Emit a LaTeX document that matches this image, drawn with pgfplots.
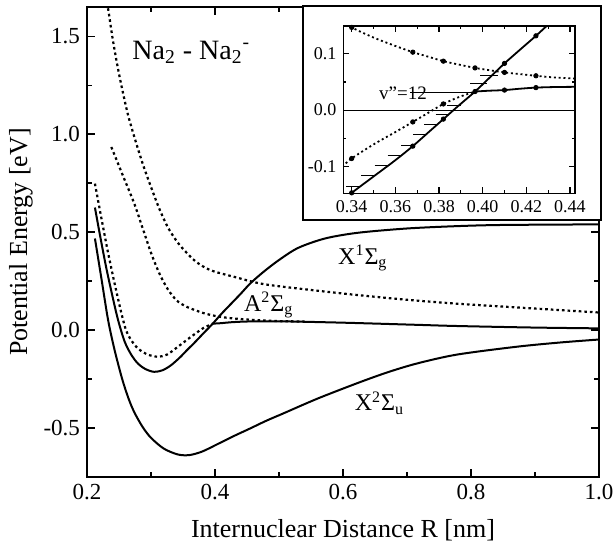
\documentclass[border=0pt]{standalone}
\usepackage{pgfplots}
\pgfplotsset{compat=1.18}
\usepackage{fontspec}
\setmainfont{Liberation Serif}

\begin{document}
\begin{tikzpicture}
\useasboundingbox (-43.5pt,-37pt) rectangle (264.5pt,238.5pt);
\begin{axis}[
  at={(0pt,0pt)}, anchor=south west,
  scale only axis, width=256pt, height=235pt,
  xmin=0.2, xmax=1.0, ymin=-0.75, ymax=1.65,
  xtick={0.2,0.4,0.6,0.8,1.0}, minor xtick={0.3,0.5,0.7,0.9},
  ytick={-0.5,0,0.5,1,1.5}, minor ytick={-0.25,0.25,0.75,1.25},
  tick align=inside, major tick length=4pt, minor tick length=2.5pt,
  axis line style={line width=1pt}, every tick/.style={line width=0.8pt, black},
  /pgf/number format/assume math mode=true,
  xticklabel style={/pgf/number format/.cd, fixed, fixed zerofill, precision=1},
  yticklabel style={/pgf/number format/.cd, fixed, fixed zerofill, precision=1},
  tick label style={font=\fontsize{11.5}{13}\selectfont},
  label style={font=\fontsize{13}{15}\selectfont},
  xlabel={Internuclear Distance R [nm]},
  ylabel={Potential Energy [eV]},
  xlabel style={at={(axis description cs:0.5,0)}, anchor=center, yshift=-26.5pt},
  ylabel style={at={(axis description cs:0,0.5)}, anchor=center, rotate=0, yshift=33pt},
  clip=true,
]
% X2Sigma_u
\addplot[black, line width=1pt, smooth] coordinates {
(0.2124,0.468) (0.2227,0.26) (0.233,0.051) (0.243,-0.10) (0.255,-0.25) (0.265,-0.35) (0.274,-0.42) (0.287,-0.495) (0.300,-0.55) (0.320,-0.605) (0.342,-0.635) (0.360,-0.638) (0.380,-0.620) (0.404,-0.582) (0.430,-0.54) (0.455,-0.502) (0.480,-0.463) (0.507,-0.425) (0.560,-0.35) (0.623,-0.27) (0.670,-0.215) (0.716,-0.170) (0.778,-0.125) (0.871,-0.085) (0.94,-0.063) (1.0,-0.048)
};
% X1Sigma_g
\addplot[black, line width=1pt, smooth] coordinates {
(0.2124,0.626) (0.220,0.49) (0.230,0.32) (0.240,0.17) (0.2486,0.051) (0.259,-0.06) (0.270,-0.13) (0.280,-0.172) (0.292,-0.200) (0.305,-0.213) (0.318,-0.205) (0.331,-0.180) (0.345,-0.140) (0.356,-0.103) (0.368,-0.064) (0.382,-0.016) (0.3965,0.033) (0.410,0.083) (0.4244,0.132) (0.440,0.185) (0.455,0.238) (0.476,0.298) (0.500,0.358) (0.530,0.420) (0.572,0.468) (0.623,0.497) (0.70,0.519) (0.778,0.531) (0.85,0.537) (1.0,0.540)
};
% A2Sigma_g anion, autodetaching part (dotted)
\addplot[black, line width=1.1pt, dash pattern=on 1.3pt off 1.5pt, smooth] coordinates {
(0.2124,0.748) (0.222,0.58) (0.232,0.41) (0.241,0.27) (0.249,0.153) (0.255,0.07) (0.261,0.0) (0.269,-0.051) (0.280,-0.095) (0.295,-0.125) (0.311,-0.136) (0.325,-0.125) (0.340,-0.090) (0.354,-0.055) (0.368,-0.021) (0.382,0.011) (0.3965,0.033)
};
% A2Sigma_g anion, bound part (solid)
\addplot[black, line width=1pt, smooth] coordinates {
(0.3965,0.033) (0.410,0.0356) (0.4244,0.040) (0.45,0.044) (0.50,0.045) (0.60,0.038) (0.716,0.027) (0.778,0.021) (0.9,0.013) (1.0,0.009)
};
% middle dotted
\addplot[black, line width=1.1pt, dash pattern=on 1.3pt off 1.5pt, smooth] coordinates {
(0.238,0.935) (0.256,0.79) (0.274,0.645) (0.287,0.52) (0.300,0.395) (0.313,0.29) (0.326,0.210) (0.340,0.152) (0.354,0.122) (0.368,0.103) (0.382,0.087) (0.3965,0.075) (0.410,0.067) (0.4244,0.061) (0.4423,0.056) (0.47,0.050) (0.50,0.046) (0.54,0.044)
};
% upper dotted
\addplot[black, line width=1.1pt, dash pattern=on 1.3pt off 1.5pt, smooth] coordinates {
(0.230,1.70) (0.234,1.62) (0.240,1.49) (0.247,1.36) (0.255,1.23) (0.264,1.10) (0.274,0.986) (0.287,0.85) (0.300,0.731) (0.313,0.62) (0.326,0.527) (0.340,0.455) (0.352,0.408) (0.370,0.35) (0.393,0.306) (0.430,0.272) (0.476,0.235) (0.55,0.205) (0.623,0.179) (0.70,0.155) (0.778,0.135) (0.871,0.116) (1.0,0.090)
};
\node[font=\fontsize{14}{16}\selectfont] at (axis cs:0.363,1.418) {Na\textsubscript{2} - Na\textsubscript{2}\textsuperscript{-}};
\node[font=\fontsize{12}{14}\selectfont] at (axis cs:0.631,0.367) {X\textsuperscript{1}Σ\textsubscript{g}};
\node[font=\fontsize{12}{14}\selectfont] at (axis cs:0.484,0.128) {A\textsuperscript{2}Σ\textsubscript{g}};
\node[font=\fontsize{12}{14}\selectfont] at (axis cs:0.657,-0.372) {X\textsuperscript{2}Σ\textsubscript{u}};
\end{axis}

\draw[line width=1pt, fill=white] (108pt,128.5pt) rectangle (257pt,235.5pt);

\begin{axis}[
  at={(128.2pt,141.8pt)}, anchor=south west,
  scale only axis, width=115.8pt, height=83.7pt,
  xmin=0.3362, xmax=0.4423, ymin=-0.148, ymax=0.1495,
  xtick={0.34,0.36,0.38,0.40,0.42,0.44}, ytick={-0.1,0,0.1},
  minor x tick num=1, minor y tick num=1,
  tick align=inside, major tick length=3pt, minor tick length=1.5pt,
  axis line style={line width=0.8pt}, every tick/.style={line width=0.6pt, black},
  /pgf/number format/assume math mode=true,
  xticklabel style={/pgf/number format/.cd, fixed, fixed zerofill, precision=2},
  yticklabel style={/pgf/number format/.cd, fixed, fixed zerofill, precision=1},
  tick label style={font=\fontsize{9}{10}\selectfont},
  clip=true,
]
\addplot[black, line width=0.6pt] coordinates {(0.33,0) (0.45,0)};
% vibrational levels
\addplot[black, line width=0.5pt, unbounded coords=jump] coordinates {
(0.3375,-0.135) (0.3443,-0.135) (0.34,nan)
(0.3444,-0.116) (0.3506,-0.116) (0.35,nan)
(0.3505,-0.098) (0.3567,-0.098) (0.35,nan)
(0.3565,-0.080) (0.3627,-0.080) (0.36,nan)
(0.3626,-0.062) (0.3688,-0.062) (0.36,nan)
(0.3681,-0.043) (0.3743,-0.043) (0.37,nan)
(0.3733,-0.025) (0.3795,-0.025) (0.37,nan)
(0.3784,-0.008) (0.3846,-0.008) (0.38,nan)
(0.3837,0.009) (0.3899,0.009) (0.38,nan)
(0.3668,0.031) (0.3960,0.031) (0.39,nan)
(0.3942,0.047) (0.4018,0.047) (0.40,nan)
(0.3988,0.062) (0.4072,0.062)
};
% X1Sigma_g steep
\addplot[black, line width=0.9pt, smooth] coordinates {
(0.334,-0.165) (0.340,-0.147) (0.350,-0.118) (0.360,-0.089) (0.368,-0.064) (0.375,-0.040) (0.382,-0.016) (0.389,0.008) (0.3965,0.033) (0.403,0.057) (0.410,0.083) (0.417,0.107) (0.4244,0.132) (0.430,0.152) (0.433,0.162)
};
% lower dotted
\addplot[black, line width=0.9pt, dash pattern=on 1pt off 1.4pt, smooth] coordinates {
(0.334,-0.106) (0.340,-0.086) (0.350,-0.061) (0.360,-0.039) (0.368,-0.021) (0.375,-0.005) (0.382,0.011) (0.389,0.023) (0.3965,0.033)
};
% flat solid
\addplot[black, line width=0.9pt, smooth] coordinates {
(0.3965,0.033) (0.403,0.0345) (0.410,0.0356) (0.417,0.038) (0.4244,0.040) (0.433,0.041) (0.445,0.0415)
};
% upper dotted
\addplot[black, line width=0.9pt, dash pattern=on 1pt off 1.4pt, smooth] coordinates {
(0.334,0.163) (0.340,0.147) (0.350,0.129) (0.360,0.114) (0.368,0.103) (0.375,0.095) (0.382,0.087) (0.389,0.081) (0.3965,0.075) (0.403,0.071) (0.410,0.067) (0.417,0.064) (0.4244,0.061) (0.433,0.058) (0.445,0.0555)
};
% marks
\addplot[black, only marks, mark=*, mark size=1.1pt] coordinates {
(0.340,0.147) (0.368,0.103) (0.382,0.087) (0.3965,0.075) (0.410,0.067) (0.4244,0.061)
(0.340,-0.086) (0.368,-0.021) (0.382,0.011) (0.3965,0.033)
(0.340,-0.147) (0.368,-0.064) (0.382,-0.016) (0.410,0.083) (0.4244,0.132)
(0.410,0.0356) (0.4244,0.040)
};
\node[font=\fontsize{9.5}{11}\selectfont] at (axis cs:0.3635,0.0295) {v"=12};
\end{axis}
\end{tikzpicture}
\end{document}
